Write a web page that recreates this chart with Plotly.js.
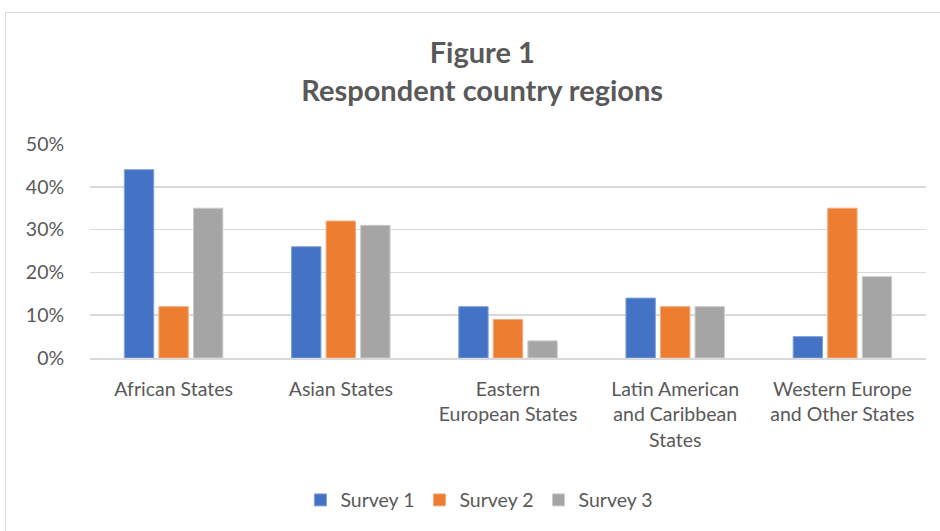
<!DOCTYPE html>
<html>
<head>
<meta charset="utf-8">
<script src="https://cdn.plot.ly/plotly-3.0.1.min.js"></script>
<style>
  html, body { margin: 0; padding: 0; background: #fff; }
  #chart { width: 940px; height: 531px; }
  #frame {
    position: absolute; left: 5px; top: 12px; width: 960px; height: 540px;
    border-left: 1px solid #d9d9d9; border-top: 1px solid #d9d9d9;
    pointer-events: none;
  }
</style>
</head>
<body>
<div id="chart"></div>
<div id="frame"></div>
<script>
// Region categories (UN regional groups) and share of respondents per survey
const regions = [
  "African States",
  "Asian States",
  "Eastern<br>European States",
  "Latin American<br>and Caribbean<br>States",
  "Western Europe<br>and Other States"
];
const survey1 = [0.44, 0.26, 0.12, 0.14, 0.05];
const survey2 = [0.12, 0.32, 0.09, 0.12, 0.35];
const survey3 = [0.35, 0.31, 0.04, 0.12, 0.19];
const seriesNames = ["Survey 1", "Survey 2", "Survey 3"];
const yTickVals = [0, 0.1, 0.2, 0.3, 0.4, 0.5];

const colors = ["#4472C4", "#ED7D31", "#A5A5A5"];
const edges = ["#7fa0db", "#f5ab7e", "#cbcbcb"];
const FONT = "Lato, 'Open Sans', sans-serif";
const GREY = "#595959";

const traces = [survey1, survey2, survey3].map((vals, i) => ({
  type: "bar",
  name: seriesNames[i],
  x: regions,
  y: vals,
  marker: { color: colors[i], line: { color: edges[i], width: 1 } },
  hoverinfo: "x+y+name"
}));

const layout = {
  width: 940,
  height: 531,
  paper_bgcolor: "#ffffff",
  plot_bgcolor: "#ffffff",
  margin: { l: 90, r: 14, t: 144, b: 173 },
  font: { family: FONT, color: GREY },
  title: {
    text: "<b>Figure 1</b><br><b>Respondent country regions</b>",
    font: { family: FONT, size: 29, color: GREY },
    xref: "container", x: 0.513, xanchor: "center",
    yref: "container", y: 0.881, yanchor: "middle"
  },
  barmode: "group",
  bargap: 0.38,
  bargroupgap: 0.15,
  xaxis: {
    type: "category",
    showgrid: false,
    showline: true,
    linecolor: "#d9d9d9",
    linewidth: 1.5,
    ticks: "outside",
    ticklen: 13,
    tickcolor: "rgba(0,0,0,0)",
    tickfont: { family: FONT, size: 19.5, color: GREY },
    tickangle: 0,
    fixedrange: true
  },
  yaxis: {
    range: [0, 0.5],
    tickvals: yTickVals,
    tickformat: ".0%",
    showgrid: true,
    gridcolor: "#d9d9d9",
    gridwidth: 1.5,
    zeroline: false,
    showline: false,
    ticks: "outside",
    ticklen: 21,
    tickcolor: "rgba(0,0,0,0)",
    tickfont: { family: FONT, size: 19.5, color: GREY },
    fixedrange: true
  },
  showlegend: true,
  legend: {
    orientation: "h",
    xref: "container", x: 0.51, xanchor: "center",
    yref: "container", y: 0.058, yanchor: "middle",
    font: { family: FONT, size: 19.5, color: GREY },
    itemwidth: 30,
    tracegroupgap: 0
  }
};

Plotly.newPlot("chart", traces, layout, { displayModeBar: false, staticPlot: true });
</script>
</body>
</html>
